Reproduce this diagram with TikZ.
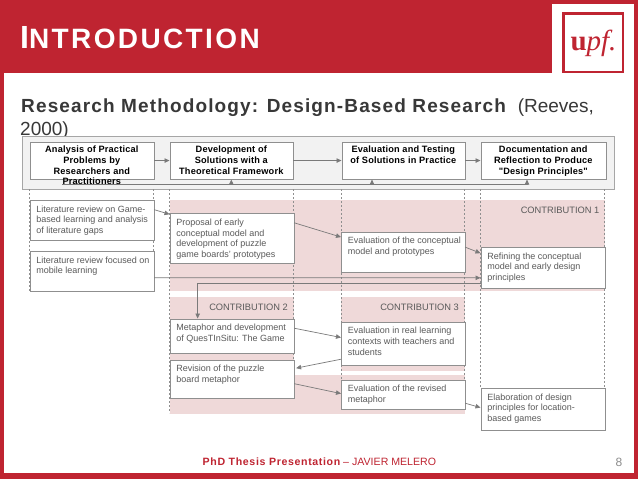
\documentclass[tikz,border=0pt]{standalone}
\usepackage{fontspec}
\setmainfont{Liberation Sans}
\newfontfamily\spacedfont[LetterSpace=8.5]{Liberation Sans}
\newfontfamily\wideheadfont[LetterSpace=6]{Liberation Sans}
\newfontfamily\boxheadfont[LetterSpace=2]{Liberation Sans}
\newfontfamily\footfont[LetterSpace=6]{Liberation Sans}
\newfontfamily\logofont{Liberation Serif}
\usetikzlibrary{calc,arrows.meta}
\definecolor{upfred}{HTML}{BF2431}
\definecolor{pinkfill}{HTML}{EFD9D9}
\definecolor{linegray}{HTML}{8F8F8F}
\definecolor{bodygray}{HTML}{5A5A5A}
\definecolor{titlegray}{HTML}{383838}
\tikzset{
  flowbox/.style={draw=linegray,fill=white,line width=.6pt,inner sep=0pt,anchor=north west},
  arr/.style={draw=linegray!85!black,line width=.7pt,-{Triangle[length=5pt,width=4.5pt]}},
  plainline/.style={draw=linegray!85!black,line width=.7pt},
  guide/.style={draw=linegray,line width=.5pt,dash pattern=on 2pt off 2pt},
  contrib/.style={font=\fontsize{9.3}{11}\selectfont,text=bodygray,inner sep=0pt,anchor=base east}
}
% name, x, y, w, h, text
\newcommand{\stepnode}[6]{%
  \node[flowbox,minimum width=#4pt,minimum height=#5pt] (#1) at (#2,#3)
    {\parbox[c][#5pt][t]{#4pt}{\fontsize{9}{10.6}\selectfont\color{bodygray}\leftskip=6.5pt\rightskip=0pt plus 1fil\parindent=0pt\vspace{4.6pt}\strut#6\strut}};}
\newcommand{\headnode}[6]{%
  \node[flowbox,minimum width=#4pt,minimum height=#5pt] (#1) at (#2,#3)
    {\parbox[c][#5pt][t]{#4pt}{\boxheadfont\bfseries\fontsize{9.2}{10.7}\selectfont\color{black}\centering\vspace{3.5pt}\strut#6\strut}};}
\begin{document}
\begin{tikzpicture}[x=1pt,y=-1pt]
\useasboundingbox (0,0) rectangle (638,479);
% frame
\fill[upfred] (0,0) rectangle (638,479);
\fill[white] (4,73) rectangle (633.5,473);
\fill[white] (552,4) rectangle (633.5,73);
\draw[upfred,line width=2.6pt] (563.3,13.3) rectangle (623,71.8);
\node[inner sep=0pt,anchor=base,text=upfred] (logo) at (593.5,50) {\logofont\fontsize{29}{29}\selectfont\textbf{u}\textit{pf.}};
\node[inner sep=0pt,anchor=base west,text=white] (title) at (20,48.7) {\spacedfont\bfseries\fontsize{32}{32}\selectfont I\fontsize{28}{28}\selectfont NTRODUCTION};
\node[inner sep=0pt,anchor=base west,text=titlegray] (sub) at (21,112.7) {\wideheadfont\bfseries\fontsize{19}{19}\selectfont Research Methodology: Design-Based Research};
\node[inner sep=0pt,anchor=base east,text=titlegray] (subr) at (594,112.7) {\fontsize{19}{19}\selectfont (Reeves,};
\node[inner sep=0pt,anchor=base west,text=titlegray] (subb) at (20,135) {\fontsize{19}{19}\selectfont 2000)};
% band
\draw[fill=black!5,draw=black!35,line width=.7pt] (22.5,136) rectangle (614,189);
% pink
\fill[pinkfill] (169.5,199.5) rectangle (604.5,291);
\fill[pinkfill] (169.5,297) rectangle (293.5,413.5);
\fill[pinkfill] (341,297) rectangle (464.5,371);
\fill[pinkfill] (169.5,375) rectangle (464.5,413.5);
% guides
\foreach \gx/\ga/\gb in {29.5/189/291,153.5/189/291,169.5/189/413,293.5/189/397,341/189/408,464.5/189/408,480.5/189/388,604.5/189/388}
  \draw[guide] (\gx,\ga) -- (\gx,\gb);
% headers
\headnode{ha}{29.5}{141.5}{124}{37.5}{Analysis of Practical\\Problems by\\Researchers and\\Practitioners}
\headnode{hb}{169.5}{141.5}{123}{37.5}{Development of\\Solutions with a\\Theoretical Framework}
\headnode{hc}{341.5}{141.5}{123}{37.5}{Evaluation and Testing\\of Solutions in Practice}
\headnode{hd}{480.5}{141.5}{125}{37.5}{Documentation and\\Reflection to Produce\\"Design Principles"}
% steps
\stepnode{lita}{29.5}{200}{124}{39.5}{Literature review on Game-\\based learning and analysis\\of literature gaps}
\stepnode{litb}{29.5}{251}{124}{40}{Literature review focused on\\mobile learning}
\stepnode{prop}{169.5}{213.3}{124}{49.2}{Proposal of early\\conceptual model and\\development of puzzle\\game boards' prototypes}
\stepnode{evalc}{341}{231.5}{123.5}{40.5}{Evaluation of the conceptual\\model and prototypes}
\stepnode{refi}{480.5}{247}{124}{40.5}{Refining the conceptual\\model and early design\\principles}
\stepnode{meta}{169.5}{318.5}{124}{34}{Metaphor and development\\of QuesTInSitu: The Game}
\stepnode{revi}{169.5}{359.5}{124}{38}{Revision of the puzzle\\board metaphor}
\stepnode{evalr}{341}{321.5}{123.5}{43}{Evaluation in real learning\\contexts with teachers and\\students}
\stepnode{evalv}{341}{379.5}{123.5}{29}{Evaluation of the revised\\metaphor}
\stepnode{elab}{480.5}{388}{124}{42}{Elaboration of design\\principles for location-\\based games}
% contribution labels
\node[contrib] (ca) at (599.5,213) {CONTRIBUTION 1};
\node[contrib] (cb) at (288,310) {CONTRIBUTION 2};
\node[contrib] (cc) at (459,310) {CONTRIBUTION 3};
% header arrows
\draw[arr] (ha.east) -- (hb.west);
\draw[arr] (hb.east) -- (hc.west);
\draw[arr] (hc.east) -- (hd.west);
% feedback
\coordinate (fbstart) at (62,184.3);
\coordinate (fbb) at (hb.south |- fbstart);
\coordinate (fbc) at (372,184.3);
\coordinate (fbd) at (527,184.3);
\draw[plainline] (fbstart) -- (fbd);
\draw[arr] (fbb) -- (fbb |- hb.south);
\draw[arr] (fbc) -- (fbc |- hc.south);
\draw[arr] (fbd) -- (fbd |- hd.south);
% steps
\draw[arr] ($(lita.north east)!.24!(lita.south east)$) -- ($(prop.north west)!.02!(prop.south west)$);
\draw[arr] ($(prop.north east)!.19!(prop.south east)$) -- ($(evalc.north west)!.136!(evalc.south west)$);
\draw[arr] ($(evalc.north east)!.38!(evalc.south east)$) -- ($(refi.north west)!.15!(refi.south west)$);
\draw[arr] ($(litb.north east)!.66!(litb.south east)$) -- ($(refi.north west)!.75!(refi.south west)$);
\draw[arr] ($(refi.north west)!.88!(refi.south west)$) -| ($(meta.north west)!.226!(meta.north east)$);
\draw[arr] ($(meta.north east)!.28!(meta.south east)$) -- ($(evalr.north west)!.367!(evalr.south west)$);
\draw[arr] ($(evalr.north west)!.865!(evalr.south west)$) -- ([xshift=2pt]$(revi.north east)!.224!(revi.south east)$);
\draw[arr] ($(revi.north east)!.626!(revi.south east)$) -- ($(evalv.north west)!.476!(evalv.south west)$);
\draw[arr] ($(evalv.north east)!.8!(evalv.south east)$) -- ($(elab.north west)!.46!(elab.south west)$);
% footer
\node[inner sep=0pt,anchor=base west,text=upfred] (foot) at (202.5,465) {\fontsize{10.6}{12}\selectfont{\footfont\bfseries PhD Thesis Presentation}\ -- JAVIER MELERO};
\node[inner sep=0pt,anchor=base,text=black!45] (pg) at (619,466) {\fontsize{12}{12}\selectfont 8};
\end{tikzpicture}
\end{document}
